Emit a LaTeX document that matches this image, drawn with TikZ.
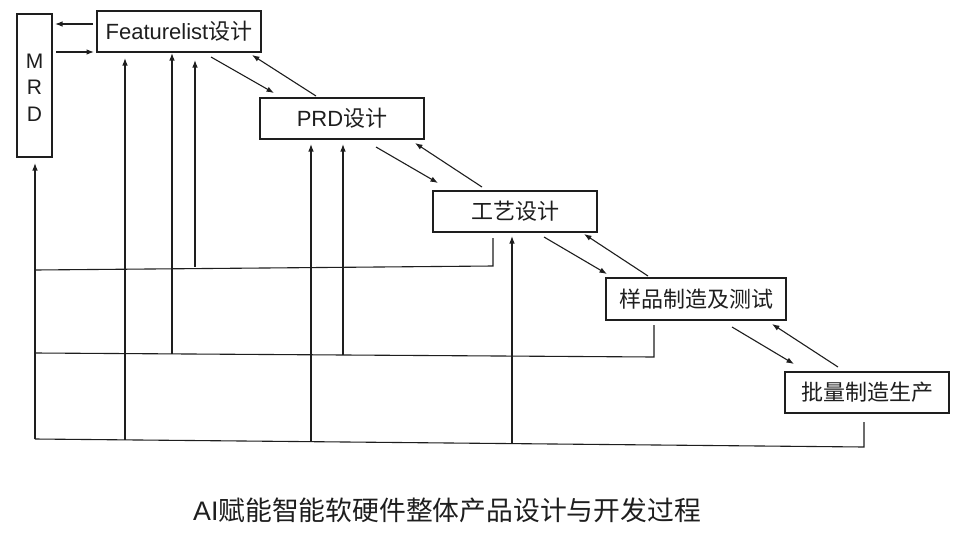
\documentclass[tikz,border=0pt]{standalone}
\usepackage{fontspec}
\setmainfont{Liberation Sans}
\newfontfamily\cjk{Noto Sans CJK SC}
\usetikzlibrary{arrows.meta,calc}
\definecolor{ink}{HTML}{1E1E1E}
\begin{document}
\begin{tikzpicture}[x=1pt,y=-1pt,
  stagebox/.style={draw=ink,line width=1.8pt,inner sep=0pt,outer sep=0pt,
    minimum width=164pt,minimum height=41pt,text=ink,
    font=\fontsize{22}{26}\selectfont},
  link/.style={draw=ink,line width=1.1pt,-{Latex[length=7.5pt,width=5.5pt]}},
  wire/.style={draw=ink,line width=1.1pt}]
\useasboundingbox[fill=white] (0,0) rectangle (972,536);

% stages
\node[stagebox,minimum width=35pt,minimum height=143pt] (mrd) at (34.5,85.5) {};
\node[text=ink,align=center,inner sep=0pt,font=\fontsize{21}{26.5}\selectfont]
  (mrdtext) at (34.5,87.5) {M\\R\\D};
\node[stagebox] (feat) at (179,31.5) {Featurelist{\cjk 设计}};
\node[stagebox] (prd) at (342,118.5) {PRD{\cjk 设计}};
\node[stagebox] (gy) at (515,211.5) {\cjk 工艺设计};
\node[stagebox,minimum width=180pt,minimum height=42pt] (yp) at (696,299) {\cjk 样品制造及测试};
\node[stagebox] (pl) at (867,392.5) {\cjk 批量制造生产};
\node[text=ink,font=\fontsize{26.8}{30}\selectfont] (title) at (447,510.5)
  {AI{\cjk 赋能智能软硬件整体产品设计与开发过程}};

% MRD <-> Featurelist
\draw[link] ($(feat.north west)+(-4,13)$) -- ($(mrd.north east)+(3,10)$);
\draw[link] ($(mrd.north east)+(4,38)$) -- ($(feat.south west)+(-3,0)$);

% cascade forward / backward
\draw[link] ($(feat.south)+(32,5)$) -- ($(prd.north west)+(14,-5)$);
\draw[link] ($(prd.north west)+(56,-2)$) -- ($(feat.south east)+(-9,3)$);
\draw[link] ($(prd.south)+(34,8)$) -- ($(gy.north west)+(5,-8)$);
\draw[link] ($(gy.north west)+(49,-4)$) -- ($(prd.south east)+(-9,4)$);
\draw[link] ($(gy.south)+(29,5)$) -- ($(yp.north west)+(1,-4)$);
\draw[link] ($(yp.north west)+(42,-2)$) -- ($(gy.south east)+(-13,2)$);
\draw[link] ($(yp.south)+(36,7)$) -- ($(pl.north west)+(9,-8)$);
\draw[link] ($(pl.north west)+(53,-5)$) -- ($(yp.south east)+(-14,4)$);

% feedback from 工艺设计
\coordinate (g0) at ($(gy.south)+(-22,6)$);
\coordinate (g1) at (493,266);
\coordinate (g2) at (35,270);
\coordinate (g3) at (195,266.5);
\draw[wire] (g0) -- (g1) -- (g2);
\draw[link] (g3) -- ($(feat.south west)+(98,8)$);

% feedback from 样品制造及测试
\coordinate (y0) at ($(yp.south)+(-42,5)$);
\coordinate (y1) at (654,357);
\coordinate (y2) at (35,353);
\coordinate (y3) at (172,353.9);
\coordinate (y4) at (343,355);
\draw[wire] (y0) -- (y1) -- (y2);
\draw[link] (y3) -- ($(feat.south west)+(75,1)$);
\draw[link] (y4) -- ($(prd.south)+(1,5)$);

% feedback from 批量制造生产
\coordinate (p0) at ($(pl.south)+(-3,9)$);
\coordinate (p1) at (864,447);
\coordinate (p2) at (35,439);
\coordinate (p3) at (125,439.9);
\coordinate (p4) at (311,441.7);
\coordinate (p5) at (512,443.6);
\draw[wire] (p0) -- (p1) -- (p2);
\draw[link] (p2) -- ($(mrd.south)+(0.5,6)$);
\draw[link] (p3) -- ($(feat.south west)+(28,6)$);
\draw[link] (p4) -- ($(prd.south)+(-31,5)$);
\draw[link] (p5) -- ($(gy.south)+(-3,4)$);
\end{tikzpicture}
\end{document}
